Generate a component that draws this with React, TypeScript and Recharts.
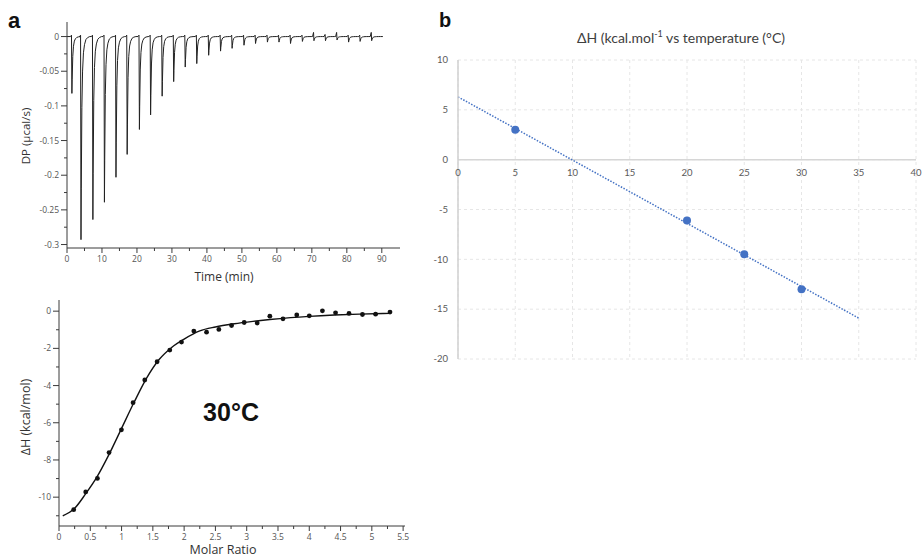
import React from 'react';
import { ComposedChart, LineChart, Line, Scatter, XAxis, YAxis, CartesianGrid, ReferenceLine } from 'recharts';

// ---- panel a (top): raw ITC thermogram
const injectionTimes = [1.4, 4.0, 7.4, 10.7, 14.0, 17.2, 20.7, 23.9, 27.2, 30.5, 33.8, 37.1, 40.5, 43.9, 47.2,
  50.6, 53.9, 57.3, 60.6, 63.9, 67.3, 70.6, 73.9, 77.2, 80.5, 83.8, 87.1];
const injectionDepths = [-0.082, -0.293, -0.264, -0.239, -0.203, -0.17, -0.134, -0.113, -0.086, -0.065, -0.044,
  -0.039, -0.027, -0.021, -0.017, -0.0125, -0.01, -0.008, -0.008, -0.01, -0.007, -0.006, -0.006, -0.005,
  -0.008, -0.007, -0.006];
const injectionBlips = [0.002, 0.002, 0.002, 0.002, 0.002, 0.002, 0.002, 0.002, 0.002, 0.002, 0.002, 0.002,
  0.002, 0.002, 0.002, 0.002, 0.002, 0.002, 0.002, 0.002, 0.002, 0.006, 0.003, 0.006, 0.002, 0.002, 0.006];
// shape of one injection peak (minutes after injection, fraction of depth)
const peakOffsets = [-0.4, -0.12, 0, 0.08, 0.25, 0.45, 0.7, 1.0, 1.4, 1.9, 2.5];
const peakShape = [0, 0, 1, 0.75, 0.35, 0.17, 0.08, 0.04, 0.015, 0.005, 0];

const dpTicks = [0, -0.025, -0.05, -0.075, -0.1, -0.125, -0.15, -0.175, -0.2, -0.225, -0.25, -0.275, -0.3];
const timeTicks = [0, 5, 10, 15, 20, 25, 30, 35, 40, 45, 50, 55, 60, 65, 70, 75, 80, 85, 90];

// ---- panel a (bottom): integrated heats and fit
const molarRatio = [0.235, 0.427, 0.614, 0.8, 0.998, 1.184, 1.371, 1.568, 1.771, 1.958, 2.155, 2.358, 2.555,
  2.758, 2.96, 3.168, 3.37, 3.58, 3.8, 4.0, 4.21, 4.42, 4.635, 4.85, 5.06, 5.29];
const heatPerInjection = [-10.67, -9.72, -8.99, -7.6, -6.38, -4.92, -3.7, -2.72, -2.09, -1.66, -1.07, -1.13,
  -0.98, -0.77, -0.61, -0.64, -0.27, -0.41, -0.2, -0.25, 0.02, -0.09, -0.12, -0.18, -0.16, -0.05];
const fitRatio = [0.06, 0.25, 0.43, 0.6, 0.8, 1.0, 1.2, 1.4, 1.6, 1.8, 2.0, 2.25, 2.5, 2.8, 3.1, 3.37, 3.7, 4.0,
  4.4, 4.8, 5.29];
const fitHeat = [-11.0, -10.6, -9.8, -8.95, -7.7, -6.3, -4.9, -3.6, -2.6, -1.95, -1.5, -1.06, -0.85, -0.68,
  -0.55, -0.45, -0.35, -0.28, -0.21, -0.16, -0.12];
const ratioTicks = [0, 0.25, 0.5, 0.75, 1, 1.25, 1.5, 1.75, 2, 2.25, 2.5, 2.75, 3, 3.25, 3.5, 3.75, 4, 4.25, 4.5,
  4.75, 5, 5.25, 5.5];
const heatTicks = [0, -1, -2, -3, -4, -5, -6, -7, -8, -9, -10, -11];

// ---- panel b: enthalpy vs temperature
const temperatures = [5, 20, 25, 30];
const enthalpies = [3, -6.1, -9.5, -13];
const trendTemps = [0, 35];
const trendEnthalpies = [6.3, -15.9];
const tempTicks = [0, 5, 10, 15, 20, 25, 30, 35, 40];
const enthalpyTicks = [-20, -15, -10, -5, 0, 5, 10];

const thermogram: { t: number; dp: number }[] = [{ t: 0, dp: 0 }];
injectionTimes.forEach((t0, i) => {
  peakOffsets.forEach((dt, k) => {
    const dp = injectionDepths[i] * peakShape[k] + (k === 1 ? injectionBlips[i] : 0);
    thermogram.push({ t: +(t0 + dt).toFixed(2), dp });
  });
});
thermogram.push({ t: 90.3, dp: 0 });

const heatPoints = molarRatio.map((r, i) => ({ r, h: heatPerInjection[i] }));
const fitCurve = fitRatio.map((r, i) => ({ r, h: fitHeat[i] }));
const tempPoints = temperatures.map((t, i) => ({ t, h: enthalpies[i] }));
const trendLine = trendTemps.map((t, i) => ({ t, h: trendEnthalpies[i] }));

const itcFont = '"Open Sans", "DejaVu Sans", sans-serif';
const excelFont = 'Lato, "Open Sans", sans-serif';
const axisColor = '#3a3a3a';

const LeftTick = ({ x, y, payload, major, label }: any) => {
  const isMajor = major(payload.value);
  const len = isMajor ? 6 : 3;
  return (
    <g>
      <line x1={x - len} x2={x} y1={y} y2={y} stroke={axisColor} strokeWidth={1} />
      {isMajor && (
        <text x={x - 8} y={y} dy="0.35em" textAnchor="end" fontSize={8.5} fill="#555" fontFamily={itcFont}>
          {label(payload.value)}
        </text>
      )}
    </g>
  );
};

const BottomTick = ({ x, y, payload, major, label }: any) => {
  const isMajor = major(payload.value);
  const len = isMajor ? 5 : 3;
  return (
    <g>
      <line x1={x} x2={x} y1={y} y2={y + len} stroke={axisColor} strokeWidth={1} />
      {isMajor && (
        <text x={x} y={y + 14} textAnchor="middle" fontSize={8.5} fill="#555" fontFamily={itcFont}>
          {label(payload.value)}
        </text>
      )}
    </g>
  );
};

const Dot = ({ cx, cy }: any) => <circle cx={cx} cy={cy} r={2.4} fill="#111" />;
const BlueDot = ({ cx, cy }: any) => <circle cx={cx} cy={cy} r={4} fill="#4472c4" />;

const absText = (left: number, top: number, extra: React.CSSProperties = {}): React.CSSProperties => ({
  position: 'absolute', left, top, transform: 'translate(-50%, -50%)', whiteSpace: 'nowrap', ...extra,
});

// right chart geometry for moving the temperature labels up to the y = 0 line
const bChartH = 380;
const bMarginTop = 60;
const bAxisH = 20;
const bMarginBottom = 1;
const bPlotH = bChartH - bMarginTop - bAxisH - bMarginBottom;
const zeroLift = (bPlotH * 20) / 30;

export default function App() {
  return (
    <div style={{ position: 'absolute', left: 0, top: 0, width: 923, height: 560, background: '#fff', overflow: 'hidden' }}>
      {/* thermogram */}
      <div style={{ position: 'absolute', left: 0, top: 0 }}>
        <LineChart width={410} height={290} data={thermogram} margin={{ top: 22, right: 10, left: 0, bottom: 0 }}>
          <XAxis
            dataKey="t" type="number" domain={[0, 95.2]} allowDataOverflow ticks={timeTicks} interval={0}
            height={42} tickSize={0} tickMargin={0} tickLine={false} stroke={axisColor}
            tick={(p: any) => <BottomTick {...p} major={(v: number) => v % 10 === 0} label={(v: number) => `${v}`} />}
          />
          <YAxis
            type="number" domain={[-0.305, 0.021]} allowDataOverflow ticks={dpTicks} interval={0}
            width={67} tickSize={0} tickMargin={0} tickLine={false} stroke={axisColor}
            tick={(p: any) => (
              <LeftTick {...p} major={(v: number) => Math.round(v * 1000) % 50 === 0} label={(v: number) => `${+v.toFixed(2)}`} />
            )}
          />
          <Line dataKey="dp" type="linear" stroke="#222" strokeWidth={1} dot={false} isAnimationActive={false} />
        </LineChart>
      </div>

      {/* binding isotherm */}
      <div style={{ position: 'absolute', left: 0, top: 290 }}>
        <ComposedChart width={415} height={270} margin={{ top: 10, right: 10, left: 0, bottom: 0 }}>
          <XAxis
            dataKey="r" type="number" domain={[0, 5.53]} allowDataOverflow ticks={ratioTicks} interval={0}
            height={34} tickSize={0} tickMargin={0} tickLine={false} stroke={axisColor}
            tick={(p: any) => (
              <BottomTick {...p} major={(v: number) => Math.round(v * 100) % 50 === 0} label={(v: number) => `${v}`} />
            )}
          />
          <YAxis
            dataKey="h" type="number" domain={[-11.55, 0.6]} allowDataOverflow ticks={heatTicks} interval={0}
            width={59} tickSize={0} tickMargin={0} tickLine={false} stroke={axisColor}
            tick={(p: any) => <LeftTick {...p} major={(v: number) => v % 2 === 0} label={(v: number) => `${v}`} />}
          />
          <Line data={fitCurve} dataKey="h" type="monotone" stroke="#111" strokeWidth={1.4} dot={false} isAnimationActive={false} />
          <Scatter data={heatPoints} dataKey="h" shape={<Dot />} isAnimationActive={false} />
        </ComposedChart>
      </div>

      {/* enthalpy vs temperature */}
      <div style={{ position: 'absolute', left: 420, top: 0 }}>
        <ComposedChart width={503} height={bChartH} margin={{ top: bMarginTop, right: 7, left: 0, bottom: bMarginBottom }}>
          <CartesianGrid stroke="#e6e6e6" strokeDasharray="3 3" />
          <XAxis
            dataKey="t" type="number" domain={[0, 40]} ticks={tempTicks} interval={0} height={bAxisH}
            axisLine={false} tickLine={false} tickSize={0} tickMargin={0}
            tick={(p: any) => (
              <text x={p.x} y={p.y - zeroLift + 16} textAnchor="middle" fontSize={9.5} fill="#595959" fontFamily={excelFont}>
                {p.payload.value}
              </text>
            )}
          />
          <YAxis
            dataKey="h" type="number" domain={[-20, 10]} ticks={enthalpyTicks} interval={0} width={38}
            stroke="#d0d0d0" strokeWidth={1.5} tickLine={false} tickSize={0} tickMargin={0}
            tick={(p: any) => (
              <text x={p.x - 10} y={p.y} dy="0.35em" textAnchor="end" fontSize={9.5} fill="#595959" fontFamily={excelFont}>
                {p.payload.value}
              </text>
            )}
          />
          <ReferenceLine y={0} stroke="#d6d6d6" strokeWidth={1.5} />
          <Line data={trendLine} dataKey="h" type="linear" stroke="#4472c4" strokeWidth={1.5} strokeDasharray="1.5 1.5" dot={false} isAnimationActive={false} />
          <Scatter data={tempPoints} dataKey="h" shape={<BlueDot />} isAnimationActive={false} />
        </ComposedChart>
      </div>

      {/* texts */}
      <div style={absText(14, 21, { fontFamily: 'Arial, "Liberation Sans", sans-serif', fontWeight: 'bold', fontSize: 22, color: '#111' })}>a</div>
      <div style={absText(445, 20, { fontFamily: 'Arial, "Liberation Sans", sans-serif', fontWeight: 'bold', fontSize: 20, color: '#111' })}>b</div>
      <div style={absText(25, 136, { fontFamily: itcFont, fontSize: 11.5, color: '#333', transform: 'translate(-50%, -50%) rotate(-90deg)' })}>DP (µcal/s)</div>
      <div style={absText(224, 276, { fontFamily: itcFont, fontSize: 12, color: '#333' })}>Time (min)</div>
      <div style={absText(25, 417, { fontFamily: itcFont, fontSize: 12.5, color: '#333', transform: 'translate(-50%, -50%) rotate(-90deg)' })}>ΔH (kcal/mol)</div>
      <div style={absText(223, 549, { fontFamily: itcFont, fontSize: 12.5, color: '#333' })}>Molar Ratio</div>
      <div style={absText(231, 412, { fontFamily: 'Arial, "Liberation Sans", sans-serif', fontWeight: 'bold', fontSize: 25, color: '#111' })}>30°C</div>
      <div style={absText(681, 37, { fontFamily: excelFont, fontSize: 14, color: '#404040' })}>
        ΔH (kcal.mol<sup style={{ fontSize: 9 }}>-1</sup> vs temperature (°C)
      </div>
    </div>
  );
}
